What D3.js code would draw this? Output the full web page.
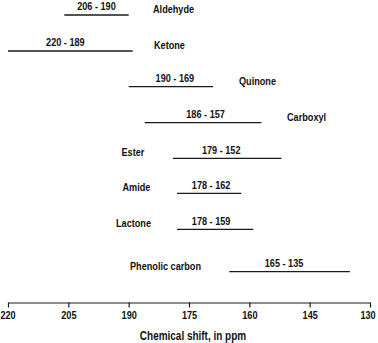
<!DOCTYPE html>
<html><head><meta charset="utf-8">
<script src="https://cdn.jsdelivr.net/npm/d3@7"></script>
<style>
html,body{margin:0;padding:0;background:#fff;}
text{font-family:"Liberation Sans","Arial",sans-serif;font-weight:bold;fill:#111;}
</style></head>
<body><svg id="c" width="378" height="343"></svg>
<script>
// Data
const categories = ["Aldehyde","Ketone","Quinone","Carboxyl","Ester","Amide","Lactone","Phenolic carbon"];
const rangeHigh = [206,220,190,186,179,178,178,165];
const rangeLow  = [190,189,169,157,152,162,159,135];
const tickValues = [220,205,190,175,160,145,130];
const axisTitle = "Chemical shift, in ppm";

// Layout (annotation placement, not data)
const rowY = [15,51,86.7,122.7,158.3,193.3,229.3,271.7];
const labelX = [153,154,239,287,121.5,122.5,116,130];
const numberDx = [0,-5,4,2.5,-6,2,-4,-5.5];
const condense = 0.83;

const svg = d3.select("#c");
const x = d3.scaleLinear().domain([220,130]).range([8,370]);
const axisY = 302.5;

const g = svg.append("g");
categories.forEach((c,i)=>{
  const x1 = x(rangeHigh[i]), x2 = x(rangeLow[i]);
  g.append("line").attr("x1",x1).attr("x2",x2).attr("y1",rowY[i]).attr("y2",rowY[i])
    .attr("stroke","#1a1a1a").attr("stroke-width",1.3);
  g.append("text").attr("x",(x1+x2)/2+numberDx[i]).attr("y",rowY[i]-8.5).attr("dy","0.35em")
    .attr("text-anchor","middle").attr("font-size","11px")
    .text(rangeHigh[i]+" - "+rangeLow[i]);
  g.append("text").attr("x",labelX[i]).attr("y",rowY[i]-6).attr("dy","0.35em")
    .attr("font-size","11px").text(c);
});

const axis = d3.axisBottom(x).tickValues(tickValues).tickSize(5).tickSizeOuter(0).tickPadding(4).tickFormat(d3.format("d"));
const ag = svg.append("g").attr("transform",`translate(0,${axisY})`).call(axis);
ag.attr("font-family",null);
ag.select(".domain").attr("stroke","#1a1a1a").attr("stroke-width",1.2);
ag.selectAll(".tick line").attr("stroke","#1a1a1a").attr("stroke-width",1.2);
ag.selectAll(".tick text").attr("font-size","11px").attr("fill","#111")
  .attr("dx", d => d === 130 ? -2.5 : (d === 220 ? -0.5 : 0));

svg.append("text").attr("x",193).attr("y",335.5).attr("dy","0.35em").attr("text-anchor","middle")
  .attr("font-size","12px").text(axisTitle);

// condensed look: compress glyphs horizontally
svg.selectAll("text").each(function(){
  const w = this.getComputedTextLength();
  d3.select(this).attr("textLength", w*condense).attr("lengthAdjust","spacingAndGlyphs");
});
</script></body></html>
